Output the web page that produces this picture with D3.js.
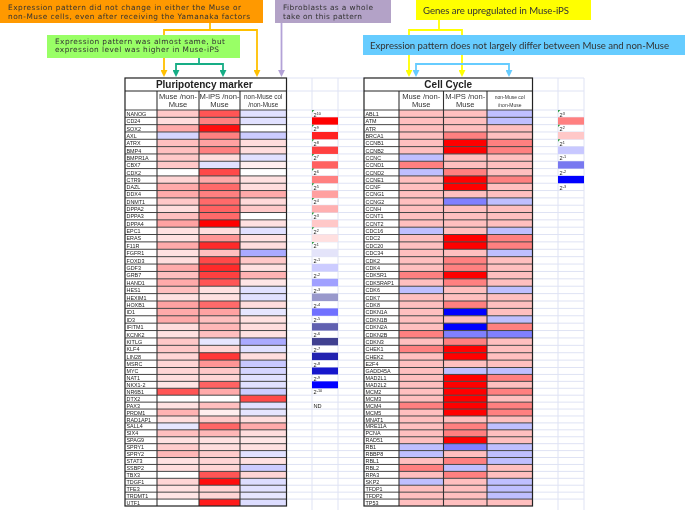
<!DOCTYPE html>
<html>
<head>
<meta charset="utf-8">
<script src="https://d3js.org/d3.v7.min.js"></script>
<style>
  html, body { margin: 0; padding: 0; background: #fff; }
  svg { display: block; }
</style>
</head>
<body>
<div id="chart"></div>
<script>
var pluriGenes = ["NANOG","CD24","SOX2","AXL","ATRX","BMP4","BMPR1A","CBX7","CDX2","CTR9","DAZL","DDX4","DNMT1","DPPA2","DPPA3","DPPA4","EPC1","ERAS","F11R","FGFR1","FOXD3","GDF3","GRB7","HAND1","HES1","HEXIM1","HOXB1","ID1","ID3","IFITM1","KCNK2","KITLG","KLF4","LIN28","MSRC","MYC","NAT1","NKX1-2","NR6B1","DTX2","PAX3","PRDM1","RAD1AP1","SALL4","SIX4","SPAG9","SPRY1","SPRY2","STAT3","SSBP2","TBX3","TDGF1","TFE3","TRDMT1","UTF1"];
var pluriMuse = [1.3,.8,2,-1,1.5,1.5,1.3,1.3,0,1,2,2,1.3,.8,1.5,2.2,.7,.7,2,.7,.8,2,1.5,2,1.5,.7,2.2,2,2,.8,.7,1.3,1.3,1,1,1,.8,.6,4,0,.7,1.8,.8,-.6,1.5,.7,1.2,1.7,.7,.8,0,1,.7,.6,0];
var pluriIps = [4,3,5.7,3,2.2,3,.8,-.7,4.3,2,3.5,3,3.5,3.7,3.5,5.9,.8,2.5,5,1.5,4.3,5,4.5,4,.7,.7,3.5,2.2,1.5,1.7,1.5,-.6,1,4.7,2.5,1.3,1,3.7,2,0,1.5,.4,1.3,3.6,1.7,.7,.8,1.2,1,1,4,5.7,1,1,5.3];
var pluriNonMuse = [-.7,-.7,0,-1.2,.8,.8,-.7,.4,0,.7,.8,2,.9,1.3,0,.7,-.7,.7,.8,-2,1.3,.7,1.8,.6,-.7,-.7,.8,-.6,.7,.8,.7,-2,-.7,.8,-1.3,-1,-.7,-.7,-1.2,4.3,-.7,-.6,.8,2,.8,.6,.7,-.7,.7,-1.2,1,-.8,-.7,-.6,-.8];

var cycleGenes = ["ABL1","ATM","ATR","BRCA1","CCNB1","CCNB2","CCNC","CCND1","CCND2","CCNE1","CCNF","CCNG1","CCNG2","CCNH","CCNT1","CCNT2","CDC16","CDC2","CDC20","CDC34","CDK2","CDK4","CDK5R1","CDK5RAP1","CDK6","CDK7","CDK8","CDKN1A","CDKN1B","CDKN2A","CDKN2B","CDKN3","CHEK1","CHEK2","E2F4","GADD45A","MAD2L1","MAD2L2","MCM2","MCM3","MCM4","MCM5","MNAT1","MRE11A","PCNA","RAD51","RB1","RBBP8","RBL1","RBL2","RPA3","SKP2","TFDP1","TFDP2","TP53"];
var cycleMuse = [1.5,1.5,1.5,1.5,1.5,1.5,-1.5,3,-1.5,1.5,1.5,1.5,1.5,1.5,1.5,1.5,-1.5,1.5,1.5,1.5,1.5,1.5,3,1.5,-1.5,1.5,1.5,1.5,1.5,1.5,3,1.5,3,1.5,1.5,1.5,1.5,1.5,1.5,1.5,3,1.5,1.5,1.5,1.5,1.5,-1.5,-1.5,1.5,3,1.5,-1.5,1.5,1.5,1.5];
var cycleIps = [1.5,1.5,1.5,3,6,6,1.5,1.5,3,6,6,1.5,-3,1.5,1.5,1.5,1.5,6,6,1.5,3,3,6,3,1.5,1.5,3,-6,1.5,-6,-3,3,6,6,1.5,-1.5,6,6,6,6,6,6,1.5,3,3,6,-3,1.5,3,-1.5,3,1.5,1.5,1.5,1.5];
var cycleNonMuse = [-1.5,-1.5,1.5,1.5,3,3,1.5,1.5,1.5,3,1.5,1.5,-1.5,1.5,1.5,1.5,-1.5,3,3,-1.5,1.5,1.5,1.5,1.5,-1.5,1.5,1.5,1.5,-1.5,3,-3,1.5,1.5,1.5,1.5,-1.5,3,1.5,3,1.5,3,3,1.5,-1.5,1.5,1.5,-1.5,-1.5,-1.5,1.5,1.5,-1.5,-1.5,-1.5,1.5];

// colour keys: exponent of the label, then the swatch under it
var pluriKeyExp = [10,9,8,7,6,5,4,3,2,1,-1,-2,-3,-4,-5,-6,-7,-8,-9,-10];
var pluriKeyColors = ["#ff0000","#ff2020","#ff4040","#ff6060","#ff8080","#ffa0a0","#ffb0b0","#ffc8c8","#ffe0e0","#e4e4fa","#ccccff","#a0a0ff","#9999cc","#7070ff","#6060b0","#404090","#2020b0","#1515cc","#0000ff"];
var cycleKeyExp = [3,2,1,-1,-2,-3];
var cycleKeyColors = ["#ff8080","#ffc8c8","#c8c8ff","#7878f0","#0000ff"];

var svgWidth = 685, svgHeight = 513;
var tableTop = 78, titleBottom = 91, rowsTop = 110, rowsBottom = 506;

// rows get a little tighter toward the bottom of the picture
var rowY = d3.scaleLinear()
    .domain([0, 17, 35, 55])
    .range([rowsTop, 234.5, 367.5, rowsBottom]);

function rowHeight(i) { return rowY(i + 1) - rowY(i); }

var svg = d3.select("#chart").append("svg")
    .attr("width", svgWidth)
    .attr("height", svgHeight);

var defs = svg.append("defs");

// the reference is a shrunken slide picture, everything is a bit soft
defs.append("filter").attr("id", "soft")
    .append("feGaussianBlur").attr("stdDeviation", 0.38);

var g = svg.append("g").attr("filter", "url(#soft)");

var color = d3.scaleLinear()
    .domain([-6, 0, 6])
    .range(["#0000ff", "#ffffff", "#ff0000"])
    .clamp(true);

// pale spreadsheet grid behind the key columns
function sheetGrid(x0, x1, xLines, genes) {
  var grid = g.append("g").attr("stroke", "#dfe3f4").attr("stroke-width", 1).attr("fill", "none");
  grid.selectAll("line.h").data(genes).enter().append("line")
      .attr("class", "h")
      .attr("x1", x0).attr("x2", x1)
      .attr("y1", function(d, i) { return rowY(i); })
      .attr("y2", function(d, i) { return rowY(i); });
  grid.selectAll("line.v").data(xLines).enter().append("line")
      .attr("class", "v")
      .attr("x1", function(d) { return d; })
      .attr("x2", function(d) { return d; })
      .attr("y1", tableTop).attr("y2", rowsBottom + 4);
  [tableTop, titleBottom].forEach(function(yy) {
    grid.append("line").attr("x1", x0).attr("x2", x1).attr("y1", yy).attr("y2", yy);
  });
}
sheetGrid(287, 364, [312, 338], pluriGenes);
sheetGrid(533, 584, [558, 584], cycleGenes);

function drawTable(opts) {
  var x = d3.scaleOrdinal().domain([0, 1, 2]).range(opts.colX);
  var table = g.append("g");

  table.append("rect")
      .attr("x", opts.left).attr("y", tableTop)
      .attr("width", opts.right - opts.left).attr("height", rowsBottom - tableTop)
      .attr("fill", "#fff");

  opts.series.forEach(function(values, i) {
    var colRight = i < 2 ? opts.colX[i + 1] : opts.right;
    table.selectAll("rect.c" + i).data(values).enter().append("rect")
        .attr("class", "c" + i)
        .attr("x", x(i))
        .attr("y", function(d, k) { return rowY(k); })
        .attr("width", colRight - x(i))
        .attr("height", function(d, k) { return rowHeight(k); })
        .attr("fill", function(d) { return color(d); });
  });

  // row and column rules
  table.selectAll("line.row").data(opts.genes).enter().append("line")
      .attr("class", "row")
      .attr("x1", opts.left).attr("x2", opts.right)
      .attr("y1", function(d, i) { return rowY(i); })
      .attr("y2", function(d, i) { return rowY(i); })
      .attr("stroke", "#444").attr("stroke-width", 1);
  table.selectAll("line.col").data([opts.labelRight].concat(opts.colX.slice(1))).enter().append("line")
      .attr("class", "col")
      .attr("x1", function(d) { return d; })
      .attr("x2", function(d) { return d; })
      .attr("y1", titleBottom).attr("y2", rowsBottom)
      .attr("stroke", "#333").attr("stroke-width", 1.1);
  table.append("line")
      .attr("x1", opts.left).attr("x2", opts.right)
      .attr("y1", titleBottom).attr("y2", titleBottom)
      .attr("stroke", "#222");
  table.append("rect")
      .attr("x", opts.left).attr("y", tableTop)
      .attr("width", opts.right - opts.left).attr("height", rowsBottom - tableTop)
      .attr("fill", "none").attr("stroke", "#222").attr("stroke-width", 1.2);

  // gene names
  table.selectAll("text.gene").data(opts.genes).enter().append("text")
      .attr("class", "gene")
      .attr("x", opts.left + 1.5)
      .attr("y", function(d, i) { return rowY(i) + rowHeight(i) - 1.4; })
      .attr("font-family", "Liberation Sans")
      .attr("font-size", 5.4)
      .attr("fill", "#222")
      .text(function(d) { return d; });

  table.append("text")
      .attr("x", (opts.left + opts.right) / 2 + opts.titleShift)
      .attr("y", titleBottom - 2.6)
      .attr("text-anchor", "middle")
      .attr("font-family", "Liberation Sans")
      .attr("font-weight", "bold")
      .attr("font-size", 10)
      .attr("fill", "#222")
      .text(opts.title);

  opts.headers.forEach(function(lines, i) {
    var colRight = i < 2 ? opts.colX[i + 1] : opts.right;
    table.selectAll("text.h" + i).data(lines).enter().append("text")
        .attr("class", "h" + i)
        .attr("x", (x(i) + colRight) / 2)
        .attr("y", function(d, k) { return 98.5 + k * 8.5; })
        .attr("text-anchor", "middle")
        .attr("font-family", "Liberation Sans")
        .attr("font-size", i == 2 ? opts.smallHeader : 7.6)
        .attr("fill", "#333")
        .text(function(d) { return d; });
  });
}

drawTable({
  title: "Pluripotency marker", titleShift: -1.5,
  genes: pluriGenes, series: [pluriMuse, pluriIps, pluriNonMuse],
  left: 125, right: 286.5, labelRight: 157, colX: [157, 199, 240],
  headers: [["Muse  /non-", "Muse"], ["M-iPS /non-", "Muse"], ["non-Muse col", "/non-Muse"]],
  smallHeader: 6.4
});
drawTable({
  title: "Cell Cycle", titleShift: 0,
  genes: cycleGenes, series: [cycleMuse, cycleIps, cycleNonMuse],
  left: 364, right: 532.5, labelRight: 399, colX: [399, 443.5, 487],
  headers: [["Muse  /non-", "Muse"], ["M-iPS /non-", "Muse"], ["non-Muse col", "/non-Muse"]],
  smallHeader: 5
});

// colour keys sit on the same rows as the table, label row then swatch row
function drawKey(exps, colors, x0, x1) {
  var key = g.append("g");
  key.selectAll("rect").data(colors).enter().append("rect")
      .attr("x", x0)
      .attr("y", function(d, i) { return rowY(i * 2 + 1); })
      .attr("width", x1 - x0)
      .attr("height", function(d, i) { return rowHeight(i * 2 + 1); })
      .attr("fill", function(d) { return d; });
  var labels = key.selectAll("text").data(exps).enter().append("text")
      .attr("x", x0 + 1.5)
      .attr("y", function(d, i) { return rowY(i * 2) + rowHeight(i * 2) - 0.8; })
      .attr("font-family", "Liberation Sans")
      .attr("font-size", 5.6)
      .attr("fill", "#222");
  labels.append("tspan").text("2");
  labels.append("tspan").attr("dy", -2).attr("font-size", 3.8)
      .text(function(d) { return d; });
  // little green corner marks of the sheet on the positive labels
  key.selectAll("path").data(exps.filter(function(d) { return d > 0; })).enter().append("path")
      .attr("d", function(d) {
        var yy = rowY(exps.indexOf(d) * 2);
        return "M" + x0 + "," + yy + "h2.4L" + x0 + "," + (yy + 2.4) + "Z";
      })
      .attr("fill", "#2f9e44");
}
drawKey(pluriKeyExp, pluriKeyColors, 312, 338);
drawKey(cycleKeyExp, cycleKeyColors, 558, 584);

g.append("text")
    .attr("x", 313.5).attr("y", rowY(40) + rowHeight(40) - 0.8)
    .attr("font-family", "Liberation Sans").attr("font-size", 5.6).attr("fill", "#222")
    .text("ND");

// annotation boxes
var boxes = [
  {x: 0, y: -1, w: 263, h: 24, fill: "#ff9900", tx: 8, lines: [[10, "Expression pattern did not change in either the Muse or", 233], [18.7, "non-Muse cells, even after receiving the Yamanaka factors", 242]]},
  {x: 275, y: -1, w: 116, h: 24, fill: "#b3a2c7", tx: 283, lines: [[10, "Fibroblasts as a whole", 90], [18.7, "take on this pattern", 79]]},
  {x: 416, y: -1, w: 175, h: 21, fill: "#ffff00", tx: 423, lines: [[13.5, "Genes are upregulated in Muse-iPS", 146]]},
  {x: 47, y: 35, w: 193, h: 23, fill: "#99ff66", tx: 55, lines: [[43.6, "Expression pattern was almost same, but", 170], [52.3, "expression level was higher in Muse-iPS", 164]]},
  {x: 363, y: 35, w: 322, h: 20, fill: "#66ccff", tx: 370, lines: [[48.5, "Expression pattern does not largely differ between Muse and non-Muse", 299]]}
];

// connector lines drawn as path, colour, where the arrow heads go
var arrows = [
  ["M210,23V30", "#ffc000", 0], ["M164,72V30H257V72", "#ffc000", 2],
  ["M199,58V64", "#16ad85", 0], ["M176,72V64H223V72", "#16ad85", 2],
  ["M281.5,23V72", "#b3a2d7", 1],
  ["M439,20V30", "#ffff00", 0], ["M409,72V30H462V72", "#ffff00", 2],
  ["M416,72V64H509V72", "#66ccff", 2]
];

arrows.forEach(function(a, i) {
  defs.append("marker").attr("id", "head" + i)
      .attr("viewBox", "0 0 10 10").attr("refX", 3).attr("refY", 5)
      .attr("markerUnits", "userSpaceOnUse")
      .attr("markerWidth", 7).attr("markerHeight", 7)
      .attr("orient", "auto-start-reverse")
      .append("path").attr("d", "M0,0L10,5 0,10Z").attr("fill", a[1]);
});

var notes = g.append("g");
notes.selectAll("path").data(arrows).enter().append("path")
    .attr("d", function(d) { return d[0]; })
    .attr("fill", "none")
    .attr("stroke", function(d) { return d[1]; })
    .attr("stroke-width", 1.8)
    .attr("marker-start", function(d, i) { return d[2] == 2 ? "url(#head" + i + ")" : null; })
    .attr("marker-end", function(d, i) { return d[2] > 0 ? "url(#head" + i + ")" : null; });

boxes.forEach(function(b) {
  notes.append("rect")
      .attr("x", b.x).attr("y", b.y)
      .attr("width", b.w).attr("height", b.h)
      .attr("fill", b.fill);
  b.lines.forEach(function(l) {
    var twoLines = b.lines.length > 1;
    notes.append("text")
        .attr("x", b.tx).attr("y", l[0])
        .attr("font-family", twoLines ? "DejaVu Sans" : "Lato")
        .attr("font-size", twoLines ? 7.4 : 9.6)
        .attr("textLength", l[2])
        .attr("lengthAdjust", "spacing")
        .attr("fill", "#333")
        .text(l[1]);
  });
});
</script>
</body>
</html>
